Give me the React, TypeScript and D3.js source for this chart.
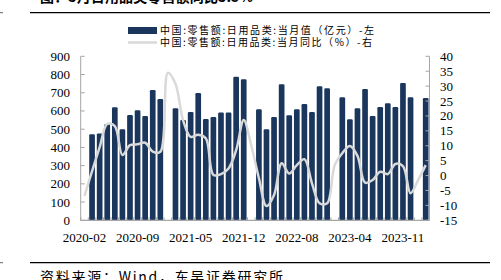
import React from "react";
import * as d3 from "d3";

const categories: string[] = [
  "2020-02","2020-03","2020-04","2020-05","2020-06","2020-07","2020-08","2020-09","2020-10","2020-11","2020-12",
  "2021-02","2021-03","2021-04","2021-05","2021-06","2021-07","2021-08","2021-09","2021-10","2021-11","2021-12",
  "2022-02","2022-03","2022-04","2022-05","2022-06","2022-07","2022-08","2022-09","2022-10","2022-11","2022-12",
  "2023-02","2023-03","2023-04","2023-05","2023-06","2023-07","2023-08","2023-09","2023-10","2023-11","2023-12",
  "2024-02","2024-03",
];

// 中国:零售额:日用品类:当月值（亿元）
const monthlyValue: (number | null)[] = [
  null, 472, 477, 529, 620, 499, 578, 604, 573, 715, 666,
  null, 615, 551, 595, 699, 556, 567, 591, 591, 788, 774,
  null, 609, 499, 567, 746, 576, 609, 638, 594, 735, 724,
  null, 675, 554, 615, 721, 573, 622, 642, 622, 754, 675,
  null, 671,
];

// 中国:零售额:日用品类:当月同比（%）
const yoy: number[] = [
  -6.8, 1.5, 9.5, 17.3, 16.6, 6.9, 10.2, 10.5, 11.0, 8.0, 8.0,
  34.5, 30.8, 18.6, 13.0, 13.7, 12.5, 0.2, 0.5, 2.4, 8.5, 18.6,
  10.0, -0.9, -10.2, -6.5, 4.1, 0.7, 3.5, 5.5, -2.6, -9.3, -9.3,
  3.5, 7.5, 9.9, 6.6, -2.4, -1.5, 1.3, 0.5, 3.9, 3.2, -5.9,
  -1.5, 3.5,
];

const leftTicks = [0, 100, 200, 300, 400, 500, 600, 700, 800, 900];
const rightTicks = [-15, -10, -5, 0, 5, 10, 15, 20, 25, 30, 35, 40];
const xLabelIdx = [0, 7, 14, 21, 28, 35, 42];

const legendBar = "中国:零售额:日用品类:当月值（亿元）-左";
const legendLine = "中国:零售额:日用品类:当月同比（%）-右";
const title = "图：3月日用品类零售额同比3.5%";
const source = "资料来源：Wind，东吴证券研究所";

const BAR = "#1b365d";
const LINE = "#d9d9d9";
const AXIS = "#a6a6a6";
const SERIF = "Liberation Serif, Times New Roman, DejaVu Serif, serif";
const CJK = "Noto Sans CJK SC, Noto Sans, sans-serif";

export default function App() {
  const W = 501, H = 280;
  const x0 = 80.7, x1 = 429.5, yTop = 56.3, yBot = 220.3;

  const x = d3.scaleBand<string>().domain(categories).range([x0, x1]).paddingInner(0.25).paddingOuter(0.125);
  const yL = d3.scaleLinear().domain([0, 900]).range([yBot, yTop]);
  const yR = d3.scaleLinear().domain([-15, 40]).range([yBot, yTop]);
  const step = x.step();
  const cx = (c: string) => (x(c) as number) + x.bandwidth() / 2;

  const line = d3
    .line<number>()
    .x((_, i) => cx(categories[i]))
    .y((d) => yR(d))
    .curve(d3.curveCatmullRom.alpha(0.5));

  const boundaries = d3.range(categories.length + 1).map((i) => x0 + i * step);

  return (
    <svg width={W} height={H} style={{ position: "absolute", left: 0, top: 0, background: "#fff" }}>
      {/* title (cut off at top) */}
      <text x={40} y={1.5} fontFamily={CJK} fontWeight="bold" fontSize={14} textLength={213} lengthAdjust="spacing" fill="#000">
        {title}
      </text>
      <line x1={30} x2={490} y1={12.7} y2={12.7} stroke="#000" strokeWidth={1.3} />
      <line x1={0} x2={3} y1={12.7} y2={12.7} stroke="#666" strokeWidth={1} />

      {/* legend */}
      <rect x={128} y={27} width={29} height={7} fill={BAR} />
      <text x={160} y={34} fontFamily={CJK} fontSize={10} textLength={214} lengthAdjust="spacing" fill="#000">
        {legendBar}
      </text>
      <line x1={128} x2={157} y1={42.5} y2={42.5} stroke={LINE} strokeWidth={2.5} />
      <text x={160} y={46.3} fontFamily={CJK} fontSize={10} textLength={212} lengthAdjust="spacing" fill="#000">
        {legendLine}
      </text>

      {/* bars */}
      {categories.map((c, i) =>
        monthlyValue[i] == null ? null : (
          <rect
            key={c}
            x={x(c)}
            y={yL(monthlyValue[i] as number)}
            width={x.bandwidth()}
            height={yL(0) - yL(monthlyValue[i] as number)}
            rx={1.2}
            fill={BAR}
          />
        )
      )}

      {/* axes */}
      <line x1={x0} x2={x0} y1={yTop} y2={yBot} stroke={AXIS} strokeWidth={1} />
      <line x1={x1} x2={x1} y1={yTop} y2={yBot} stroke={AXIS} strokeWidth={1} />
      <line x1={x0} x2={x1} y1={yBot} y2={yBot} stroke={AXIS} strokeWidth={1.2} />
      {leftTicks.map((t) => (
        <g key={"l" + t}>
          <line x1={x0} x2={x0 + 4} y1={yL(t)} y2={yL(t)} stroke={AXIS} />
          <text x={70} y={yL(t) + 4.5} textAnchor="end" fontFamily={SERIF} fontSize={13} fill="#000">
            {t}
          </text>
        </g>
      ))}
      {rightTicks.map((t) => (
        <g key={"r" + t}>
          <line x1={x1 - 4} x2={x1} y1={yR(t)} y2={yR(t)} stroke={AXIS} />
          <text x={440} y={yR(t) + 4.5} textAnchor="start" fontFamily={SERIF} fontSize={13} fill="#000">
            {t}
          </text>
        </g>
      ))}
      {boundaries.map((b, i) => (
        <line key={"b" + i} x1={b} x2={b} y1={yBot} y2={yBot - 3} stroke={AXIS} />
      ))}
      {xLabelIdx.map((i) => (
        <text key={"x" + i} x={cx(categories[i])} y={242} textAnchor="middle" fontFamily={SERIF} fontSize={13} fill="#000">
          {categories[i]}
        </text>
      ))}

      {/* yoy line */}
      <path d={line(yoy) as string} fill="none" stroke={LINE} strokeWidth={2.5} strokeLinejoin="round" />

      {/* source */}
      <line x1={30} x2={490} y1={262.7} y2={262.7} stroke="#000" strokeWidth={1.3} />
      <line x1={0} x2={3} y1={262.7} y2={262.7} stroke="#666" strokeWidth={1} />
      <text x={40} y={282} fontFamily={CJK} fontSize={14} textLength={243} lengthAdjust="spacing" fill="#000">
        {source}
      </text>
    </svg>
  );
}
